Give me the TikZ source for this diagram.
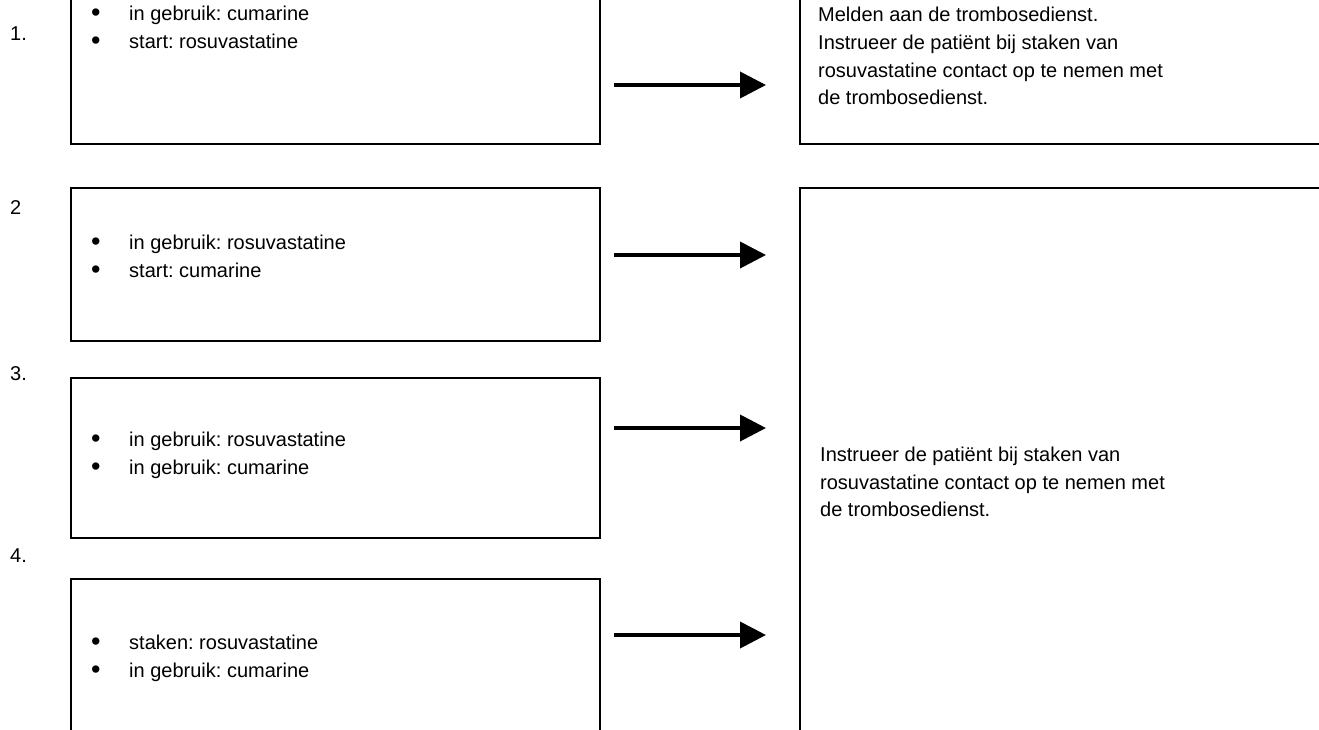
\documentclass[tikz,border=0pt]{standalone}
\usepackage{fontspec}
\setmainfont{Liberation Sans}
\usetikzlibrary{arrows.meta}
\begin{document}
\frenchspacing
\begin{tikzpicture}[x=1pt,y=-1pt,
  box/.style={draw=black, line width=1.6pt, rectangle, inner sep=0pt, anchor=north west},
  txt/.style={anchor=base west, inner sep=0pt, font=\fontsize{20}{27.7}\selectfont},
  arr/.style={line width=3.8pt, -{Triangle[length=26pt,width=26pt]}}]
\useasboundingbox (0,0) rectangle (1319,729);
\clip (0,0) rectangle (1319,729);

% left-hand case boxes
\node[box, minimum width=529pt, minimum height=183pt] (b1) at (70,-40) {};
\node[box, minimum width=529pt, minimum height=153pt] (b2) at (70,187) {};
\node[box, minimum width=529pt, minimum height=160pt] (b3) at (70,377) {};
\node[box, minimum width=529pt, minimum height=190pt] (b4) at (70,578) {};

% right-hand advice boxes
\node[box, minimum width=560pt, minimum height=183pt] (r1) at (799,-40) {};
\node[box, minimum width=560pt, minimum height=580pt] (r2) at (799,187) {};

% case numbers
\node[txt] (n1) at (10,40) {1.};
\node[txt] (n2) at (10,214) {2};
\node[txt] (n3) at (10,380) {3.};
\node[txt] (n4) at (10,562) {4.};

% bullets and case texts
\newcommand{\bul}{\makebox[38pt][l]{\raisebox{-1.8pt}{\fontsize{27}{27}\selectfont •}}}
\node[txt] (t11) at (91,20) {\bul in gebruik: cumarine};
\node[txt] (t12) at (91,48) {\bul start: rosuvastatine};
\node[txt] (t21) at (91,249) {\bul in gebruik: rosuvastatine};
\node[txt] (t22) at (91,277) {\bul start: cumarine};
\node[txt] (t31) at (91,446) {\bul in gebruik: rosuvastatine};
\node[txt] (t32) at (91,474) {\bul in gebruik: cumarine};
\node[txt] (t41) at (91,649) {\bul staken: rosuvastatine};
\node[txt] (t42) at (91,677) {\bul in gebruik: cumarine};

% advice texts
\node[txt] (m1) at (818,21) {Melden aan de trombosedienst.};
\node[txt] (m2) at (818,49) {Instrueer de patiënt bij staken van};
\node[txt] (m3) at (818,77) {rosuvastatine contact op te nemen met};
\node[txt] (m4) at (818,104) {de trombosedienst.};
\node[txt] (k1) at (820,461) {Instrueer de patiënt bij staken van};
\node[txt] (k2) at (820,489) {rosuvastatine contact op te nemen met};
\node[txt] (k3) at (820,516) {de trombosedienst.};

% arrows
\coordinate (a1s) at (614,85);  \coordinate (a1e) at (766,85);
\coordinate (a2s) at (614,255); \coordinate (a2e) at (766,255);
\coordinate (a3s) at (614,428); \coordinate (a3e) at (766,428);
\coordinate (a4s) at (614,635); \coordinate (a4e) at (766,635);
\draw[arr] (a1s) -- (a1e);
\draw[arr] (a2s) -- (a2e);
\draw[arr] (a3s) -- (a3e);
\draw[arr] (a4s) -- (a4e);
\end{tikzpicture}
\end{document}
